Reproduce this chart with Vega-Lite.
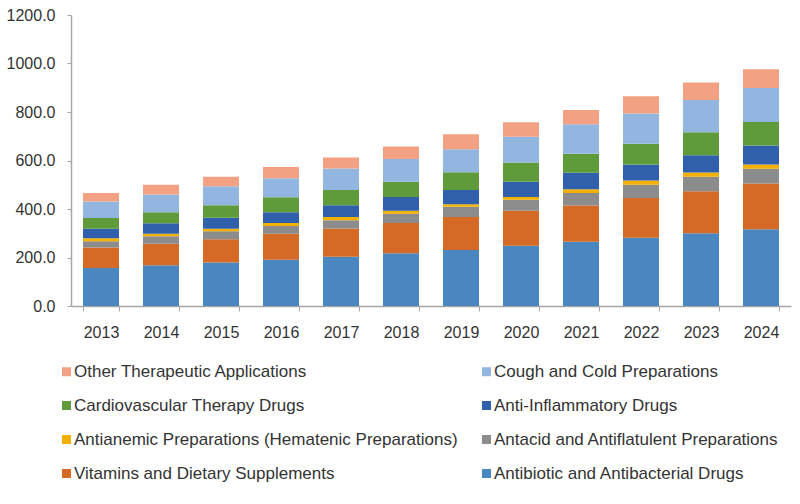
{
  "$schema": "https://vega.github.io/schema/vega-lite/v6.json",
  "width": 720,
  "height": 291,
  "autosize": {"type": "none"},
  "padding": {"left": 71, "top": 15, "right": 9, "bottom": 198},
  "background": "white",
  "config": {
    "view": {"stroke": null},
    "font": "Liberation Sans",
    "axis": {"labelFont": "Liberation Sans", "labelFontSize": 16, "labelColor": "#333333", "domainColor": "#A6A6A6", "tickColor": "#A6A6A6", "grid": false, "title": null}
  },
  "data": {"values": [
    {"y":"2013","c":"Antibiotic and Antibacterial Drugs","v":157,"k":1},
    {"y":"2013","c":"Vitamins and Dietary Supplements","v":84,"k":2},
    {"y":"2013","c":"Antacid and Antiflatulent Preparations","v":26,"k":3},
    {"y":"2013","c":"Antianemic Preparations (Hematenic Preparations)","v":12,"k":4},
    {"y":"2013","c":"Anti-Inflammatory Drugs","v":40,"k":5},
    {"y":"2013","c":"Cardiovascular Therapy Drugs","v":44,"k":6},
    {"y":"2013","c":"Cough and Cold Preparations","v":68,"k":7},
    {"y":"2013","c":"Other Therapeutic Applications","v":35,"k":8},
    {"y":"2014","c":"Antibiotic and Antibacterial Drugs","v":168,"k":1},
    {"y":"2014","c":"Vitamins and Dietary Supplements","v":89,"k":2},
    {"y":"2014","c":"Antacid and Antiflatulent Preparations","v":31,"k":3},
    {"y":"2014","c":"Antianemic Preparations (Hematenic Preparations)","v":10,"k":4},
    {"y":"2014","c":"Anti-Inflammatory Drugs","v":43,"k":5},
    {"y":"2014","c":"Cardiovascular Therapy Drugs","v":46,"k":6},
    {"y":"2014","c":"Cough and Cold Preparations","v":73,"k":7},
    {"y":"2014","c":"Other Therapeutic Applications","v":40,"k":8},
    {"y":"2015","c":"Antibiotic and Antibacterial Drugs","v":179,"k":1},
    {"y":"2015","c":"Vitamins and Dietary Supplements","v":96,"k":2},
    {"y":"2015","c":"Antacid and Antiflatulent Preparations","v":33,"k":3},
    {"y":"2015","c":"Antianemic Preparations (Hematenic Preparations)","v":11,"k":4},
    {"y":"2015","c":"Anti-Inflammatory Drugs","v":45,"k":5},
    {"y":"2015","c":"Cardiovascular Therapy Drugs","v":51,"k":6},
    {"y":"2015","c":"Cough and Cold Preparations","v":79,"k":7},
    {"y":"2015","c":"Other Therapeutic Applications","v":39,"k":8},
    {"y":"2016","c":"Antibiotic and Antibacterial Drugs","v":191,"k":1},
    {"y":"2016","c":"Vitamins and Dietary Supplements","v":107,"k":2},
    {"y":"2016","c":"Antacid and Antiflatulent Preparations","v":32,"k":3},
    {"y":"2016","c":"Antianemic Preparations (Hematenic Preparations)","v":12,"k":4},
    {"y":"2016","c":"Anti-Inflammatory Drugs","v":45,"k":5},
    {"y":"2016","c":"Cardiovascular Therapy Drugs","v":61,"k":6},
    {"y":"2016","c":"Cough and Cold Preparations","v":79,"k":7},
    {"y":"2016","c":"Other Therapeutic Applications","v":46,"k":8},
    {"y":"2017","c":"Antibiotic and Antibacterial Drugs","v":203,"k":1},
    {"y":"2017","c":"Vitamins and Dietary Supplements","v":117,"k":2},
    {"y":"2017","c":"Antacid and Antiflatulent Preparations","v":34,"k":3},
    {"y":"2017","c":"Antianemic Preparations (Hematenic Preparations)","v":13,"k":4},
    {"y":"2017","c":"Anti-Inflammatory Drugs","v":48,"k":5},
    {"y":"2017","c":"Cardiovascular Therapy Drugs","v":63,"k":6},
    {"y":"2017","c":"Cough and Cold Preparations","v":89,"k":7},
    {"y":"2017","c":"Other Therapeutic Applications","v":45,"k":8},
    {"y":"2018","c":"Antibiotic and Antibacterial Drugs","v":218,"k":1},
    {"y":"2018","c":"Vitamins and Dietary Supplements","v":124,"k":2},
    {"y":"2018","c":"Antacid and Antiflatulent Preparations","v":38,"k":3},
    {"y":"2018","c":"Antianemic Preparations (Hematenic Preparations)","v":13,"k":4},
    {"y":"2018","c":"Anti-Inflammatory Drugs","v":56,"k":5},
    {"y":"2018","c":"Cardiovascular Therapy Drugs","v":63,"k":6},
    {"y":"2018","c":"Cough and Cold Preparations","v":94,"k":7},
    {"y":"2018","c":"Other Therapeutic Applications","v":52,"k":8},
    {"y":"2019","c":"Antibiotic and Antibacterial Drugs","v":231,"k":1},
    {"y":"2019","c":"Vitamins and Dietary Supplements","v":136,"k":2},
    {"y":"2019","c":"Antacid and Antiflatulent Preparations","v":42,"k":3},
    {"y":"2019","c":"Antianemic Preparations (Hematenic Preparations)","v":11,"k":4},
    {"y":"2019","c":"Anti-Inflammatory Drugs","v":58,"k":5},
    {"y":"2019","c":"Cardiovascular Therapy Drugs","v":74,"k":6},
    {"y":"2019","c":"Cough and Cold Preparations","v":94,"k":7},
    {"y":"2019","c":"Other Therapeutic Applications","v":62,"k":8},
    {"y":"2020","c":"Antibiotic and Antibacterial Drugs","v":248,"k":1},
    {"y":"2020","c":"Vitamins and Dietary Supplements","v":145,"k":2},
    {"y":"2020","c":"Antacid and Antiflatulent Preparations","v":45,"k":3},
    {"y":"2020","c":"Antianemic Preparations (Hematenic Preparations)","v":11,"k":4},
    {"y":"2020","c":"Anti-Inflammatory Drugs","v":63,"k":5},
    {"y":"2020","c":"Cardiovascular Therapy Drugs","v":80,"k":6},
    {"y":"2020","c":"Cough and Cold Preparations","v":106,"k":7},
    {"y":"2020","c":"Other Therapeutic Applications","v":60,"k":8},
    {"y":"2021","c":"Antibiotic and Antibacterial Drugs","v":265,"k":1},
    {"y":"2021","c":"Vitamins and Dietary Supplements","v":149,"k":2},
    {"y":"2021","c":"Antacid and Antiflatulent Preparations","v":52,"k":3},
    {"y":"2021","c":"Antianemic Preparations (Hematenic Preparations)","v":15,"k":4},
    {"y":"2021","c":"Anti-Inflammatory Drugs","v":69,"k":5},
    {"y":"2021","c":"Cardiovascular Therapy Drugs","v":78,"k":6},
    {"y":"2021","c":"Cough and Cold Preparations","v":121,"k":7},
    {"y":"2021","c":"Other Therapeutic Applications","v":59,"k":8},
    {"y":"2022","c":"Antibiotic and Antibacterial Drugs","v":281,"k":1},
    {"y":"2022","c":"Vitamins and Dietary Supplements","v":164,"k":2},
    {"y":"2022","c":"Antacid and Antiflatulent Preparations","v":55,"k":3},
    {"y":"2022","c":"Antianemic Preparations (Hematenic Preparations)","v":18,"k":4},
    {"y":"2022","c":"Anti-Inflammatory Drugs","v":66,"k":5},
    {"y":"2022","c":"Cardiovascular Therapy Drugs","v":85,"k":6},
    {"y":"2022","c":"Cough and Cold Preparations","v":125,"k":7},
    {"y":"2022","c":"Other Therapeutic Applications","v":71,"k":8},
    {"y":"2023","c":"Antibiotic and Antibacterial Drugs","v":300,"k":1},
    {"y":"2023","c":"Vitamins and Dietary Supplements","v":173,"k":2},
    {"y":"2023","c":"Antacid and Antiflatulent Preparations","v":60,"k":3},
    {"y":"2023","c":"Antianemic Preparations (Hematenic Preparations)","v":18,"k":4},
    {"y":"2023","c":"Anti-Inflammatory Drugs","v":71,"k":5},
    {"y":"2023","c":"Cardiovascular Therapy Drugs","v":94,"k":6},
    {"y":"2023","c":"Cough and Cold Preparations","v":133,"k":7},
    {"y":"2023","c":"Other Therapeutic Applications","v":73,"k":8},
    {"y":"2024","c":"Antibiotic and Antibacterial Drugs","v":316,"k":1},
    {"y":"2024","c":"Vitamins and Dietary Supplements","v":189,"k":2},
    {"y":"2024","c":"Antacid and Antiflatulent Preparations","v":61,"k":3},
    {"y":"2024","c":"Antianemic Preparations (Hematenic Preparations)","v":18,"k":4},
    {"y":"2024","c":"Anti-Inflammatory Drugs","v":78,"k":5},
    {"y":"2024","c":"Cardiovascular Therapy Drugs","v":97,"k":6},
    {"y":"2024","c":"Cough and Cold Preparations","v":140,"k":7},
    {"y":"2024","c":"Other Therapeutic Applications","v":77,"k":8}
  ]},
  "mark": {"type": "bar"},
  "encoding": {
    "x": {
      "field": "y", "type": "nominal",
      "scale": {"paddingInner": 0.4, "paddingOuter": 0.2},
      "axis": {"labelAngle": 0, "tickBand": "extent", "tickSize": 5, "labelPadding": 13, "domainWidth": 1.5}
    },
    "y": {
      "field": "v", "type": "quantitative", "stack": "zero",
      "scale": {"domain": [0, 1200], "nice": false},
      "axis": {"values": [0, 200, 400, 600, 800, 1000, 1200], "format": ".1f", "tickSize": 4, "labelPadding": 12, "domainWidth": 1.5}
    },
    "order": {"field": "k", "type": "quantitative", "sort": "ascending"},
    "color": {
      "field": "c", "type": "nominal",
      "scale": {
        "domain": ["Other Therapeutic Applications", "Cough and Cold Preparations", "Cardiovascular Therapy Drugs", "Anti-Inflammatory Drugs", "Antianemic Preparations (Hematenic Preparations)", "Antacid and Antiflatulent Preparations", "Vitamins and Dietary Supplements", "Antibiotic and Antibacterial Drugs"],
        "range": ["#F2A183", "#93B6E0", "#5F9B3B", "#3060AC", "#F2B100", "#8C8C8C", "#D46A25", "#4A86C0"]
      },
      "legend": {
        "title": null, "orient": "none", "legendX": -13, "legendY": 348,
        "columns": 2, "direction": "horizontal", "columnPadding": 20, "rowPadding": 16,
        "symbolType": "square", "symbolSize": 81, "symbolStrokeWidth": 0, "symbolOffset": 0,
        "labelFont": "Liberation Sans", "labelFontSize": 17, "labelColor": "#333333", "labelLimit": 600, "labelOffset": -1
      }
    }
  }
}
